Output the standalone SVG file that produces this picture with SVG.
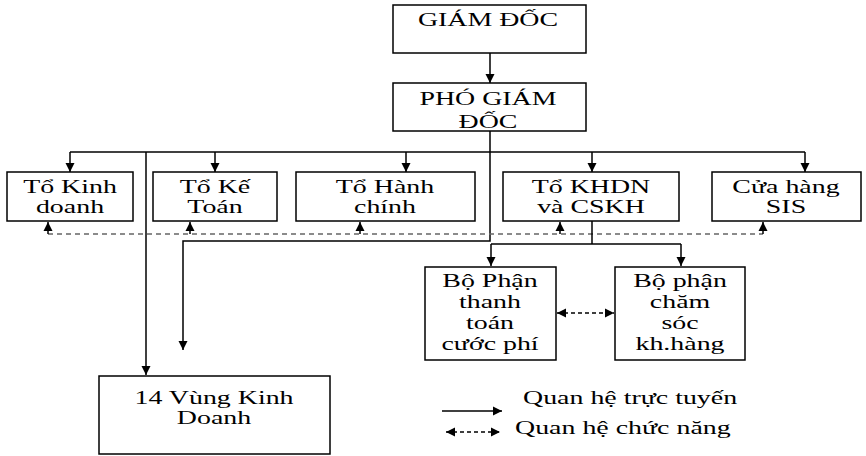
<svg xmlns="http://www.w3.org/2000/svg" width="866" height="456" viewBox="0 0 866 456">
<style>
.box{fill:#fff;stroke:#000;stroke-width:1.5}
.t{font-family:"Liberation Serif","Times New Roman",serif;font-size:18px;fill:#000;text-anchor:middle}
.tl{font-family:"Liberation Serif","Times New Roman",serif;font-size:18px;fill:#000;text-anchor:start}
.ln{fill:none;stroke:#000;stroke-width:1.5}
.ds{fill:none;stroke:#666;stroke-width:1.5;stroke-dasharray:5 4}
.dsk{fill:none;stroke:#000;stroke-width:1.3;stroke-dasharray:4 3}
</style>
<defs>
<marker id="ah" markerUnits="userSpaceOnUse" markerWidth="10" markerHeight="10" refX="9" refY="5" orient="auto">
<path d="M0,0.5 L9,5 L0,9.5 Z" fill="#000"/>
</marker>
<marker id="ahs" markerUnits="userSpaceOnUse" markerWidth="10" markerHeight="10" refX="9" refY="5" orient="auto-start-reverse">
<path d="M0,0.5 L9,5 L0,9.5 Z" fill="#000"/>
</marker>
</defs>
<g id="connectors">
<line class="ln" x1="490" y1="53" x2="490" y2="83" marker-end="url(#ah)"/>
<polyline class="ln" points="490,131 490,241 183,241 183,350" marker-end="url(#ah)"/>
<line class="ln" x1="70" y1="152" x2="805" y2="152"/>
<line class="ln" x1="70" y1="152" x2="70" y2="172" marker-end="url(#ah)"/>
<line class="ln" x1="215" y1="152" x2="215" y2="172" marker-end="url(#ah)"/>
<line class="ln" x1="406" y1="152" x2="406" y2="172" marker-end="url(#ah)"/>
<line class="ln" x1="592" y1="152" x2="592" y2="172" marker-end="url(#ah)"/>
<line class="ln" x1="805" y1="152" x2="805" y2="172" marker-end="url(#ah)"/>
<line class="ln" x1="146" y1="152" x2="146" y2="375" stroke="#333" marker-end="url(#ah)"/>
<line class="ds" x1="48" y1="234" x2="763" y2="234"/>
<line class="ln" x1="48" y1="234" x2="48" y2="222" marker-end="url(#ah)"/>
<line class="ln" x1="190" y1="234" x2="190" y2="222" marker-end="url(#ah)"/>
<line class="ln" x1="360" y1="234" x2="360" y2="222" marker-end="url(#ah)"/>
<line class="ln" x1="560" y1="234" x2="560" y2="222" marker-end="url(#ah)"/>
<line class="ln" x1="763" y1="234" x2="763" y2="222" marker-end="url(#ah)"/>
<line class="ln" x1="592" y1="221" x2="592" y2="244"/>
<line class="ln" x1="491" y1="244" x2="681" y2="244"/>
<line class="ln" x1="491" y1="244" x2="491" y2="266" marker-end="url(#ah)"/>
<line class="ln" x1="681" y1="244" x2="681" y2="266" marker-end="url(#ah)"/>
<line class="dsk" x1="557" y1="313" x2="614" y2="313" marker-start="url(#ahs)" marker-end="url(#ahs)"/>
</g>
<g id="giam-doc"><rect class="box" x="393" y="5" width="193" height="48"/>
<text class="t" transform="translate(488,26) scale(1.55,1)">GIÁM ĐỐC</text></g>
<g id="pho-giam-doc"><rect class="box" x="393" y="83" width="193" height="48"/>
<text class="t" transform="translate(488,105) scale(1.55,1)">PHÓ GIÁM</text>
<text class="t" transform="translate(488,128) scale(1.55,1)">ĐỐC</text></g>
<g id="to-kinh-doanh"><rect class="box" x="7" y="172" width="126" height="49"/>
<text class="t" transform="translate(70,193) scale(1.55,1)">Tổ Kinh</text>
<text class="t" transform="translate(70,213) scale(1.55,1)">doanh</text></g>
<g id="to-ke-toan"><rect class="box" x="153" y="172" width="124" height="49"/>
<text class="t" transform="translate(215,193) scale(1.55,1)">Tổ Kế</text>
<text class="t" transform="translate(215,213) scale(1.55,1)">Toán</text></g>
<g id="to-hanh-chinh"><rect class="box" x="296" y="172" width="179" height="49"/>
<text class="t" transform="translate(385,193) scale(1.55,1)">Tổ Hành</text>
<text class="t" transform="translate(385,213) scale(1.55,1)">chính</text></g>
<g id="to-khdn"><rect class="box" x="503" y="172" width="176" height="49"/>
<text class="t" transform="translate(591,193) scale(1.55,1)">Tổ KHDN</text>
<text class="t" transform="translate(591,213) scale(1.55,1)">và CSKH</text></g>
<g id="cua-hang-sis"><rect class="box" x="712" y="172" width="149" height="49"/>
<text class="t" transform="translate(786,193) scale(1.55,1)">Cửa hàng</text>
<text class="t" transform="translate(786,213) scale(1.55,1)">SIS</text></g>
<g id="bo-phan-thanh-toan"><rect class="box" x="425" y="267" width="131" height="93"/>
<text class="t" transform="translate(490,287) scale(1.55,1)">Bộ Phận</text>
<text class="t" transform="translate(490,308) scale(1.55,1)">thanh</text>
<text class="t" transform="translate(490,329) scale(1.55,1)">toán</text>
<text class="t" transform="translate(490,350) scale(1.55,1)">cước phí</text></g>
<g id="bo-phan-cham-soc"><rect class="box" x="615" y="267" width="130" height="93"/>
<text class="t" transform="translate(680,287) scale(1.55,1)">Bộ phận</text>
<text class="t" transform="translate(680,308) scale(1.55,1)">chăm</text>
<text class="t" transform="translate(680,329) scale(1.55,1)">sóc</text>
<text class="t" transform="translate(680,350) scale(1.55,1)">kh.hàng</text></g>
<g id="vung-kinh-doanh"><rect class="box" x="99" y="376" width="231" height="78"/>
<text class="t" transform="translate(214,404) scale(1.55,1)">14 Vùng Kinh</text>
<text class="t" transform="translate(214,424) scale(1.55,1)">Doanh</text></g>
<g id="legend">
<line class="ln" x1="442" y1="411" x2="502" y2="411" marker-end="url(#ah)"/>
<line class="dsk" x1="446" y1="432" x2="500" y2="432" marker-start="url(#ahs)" marker-end="url(#ahs)"/>
<text class="tl" transform="translate(523,404) scale(1.55,1)">Quan hệ trực tuyến</text>
<text class="tl" transform="translate(515,434) scale(1.55,1)">Quan hệ chức năng</text>
</g>
</svg>
